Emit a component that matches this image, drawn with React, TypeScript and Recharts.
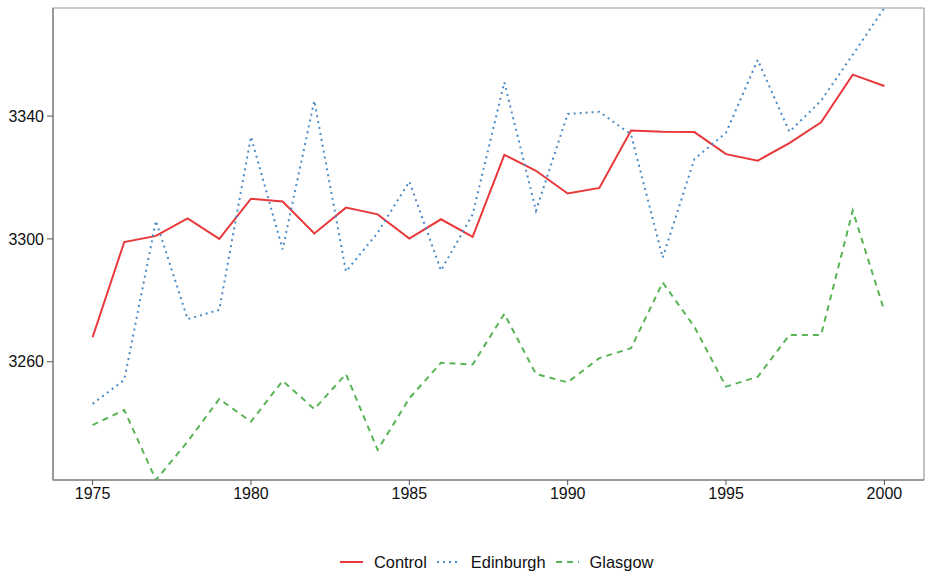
import React from "react";
import {
  LineChart,
  Line,
  XAxis,
  YAxis,
  ReferenceArea,
} from "recharts";

const years = [
  1975, 1976, 1977, 1978, 1979, 1980, 1981, 1982, 1983, 1984, 1985, 1986, 1987,
  1988, 1989, 1990, 1991, 1992, 1993, 1994, 1995, 1996, 1997, 1998, 1999, 2000,
];

const control = [
  3268, 3299, 3301, 3306.7, 3300, 3313.1, 3312.2, 3301.8, 3310.2, 3308, 3300.1,
  3306.4, 3300.7, 3327.4, 3322.2, 3314.8, 3316.6, 3335.3, 3334.9, 3334.8,
  3327.6, 3325.5, 3331.2, 3338, 3353.5, 3349.8,
];

const edinburgh = [
  3246.3, 3254.1, 3305.9, 3273.9, 3276.9, 3333.3, 3296.6, 3345, 3289.4, 3302,
  3318.7, 3289.7, 3308, 3351, 3309.2, 3340.7, 3341.4, 3334, 3293.9, 3326,
  3334.6, 3358.3, 3334.9, 3345, 3360, 3375.2,
];

const glasgow = [
  3239.4, 3244.3, 3221.5, 3234, 3247.9, 3240.5, 3253.8, 3244.6, 3256, 3231.3,
  3248.1, 3259.7, 3259.1, 3275.6, 3256, 3253.3, 3261.2, 3264.4, 3285.8, 3271.4,
  3251.9, 3255.1, 3268.7, 3268.7, 3309.2, 3276.5,
];

const xTicks = [1975, 1980, 1985, 1990, 1995, 2000];
const yTicks = [3260, 3300, 3340];

const series = [
  { key: "Control", color: "#E8383A", dash: undefined as string | undefined },
  { key: "Edinburgh", color: "#4A8CC8", dash: "2 4" },
  { key: "Glasgow", color: "#58B455", dash: "6 5" },
];

const rows = years.map((year, i) => ({
  year,
  Control: control[i],
  Edinburgh: edinburgh[i],
  Glasgow: glasgow[i],
}));

const allValues = [...control, ...edinburgh, ...glasgow];
const yMin = Math.min(...allValues);
const yMax = Math.max(...allValues);
// x gets a 5% pad on both sides, y sits flush with the data
const xPad = (years[years.length - 1] - years[0]) * 0.05;
const xMin = years[0] - xPad;
const xMax = years[years.length - 1] + xPad;

const FONT = "'Liberation Sans', Arial, Helvetica, sans-serif";
const tickStyle = { fontSize: 16, fill: "#111", fontFamily: FONT };

function LegendRow() {
  return (
    <div
      style={{
        position: "absolute",
        top: 551,
        left: 340,
        display: "flex",
        alignItems: "center",
        fontFamily: FONT,
        fontSize: 16.4,
        color: "#111",
        whiteSpace: "nowrap",
      }}
    >
      {series.map((s) => (
        <div key={s.key} style={{ display: "flex", alignItems: "center", marginRight: 10 }}>
          <svg width={23} height={22} style={{ marginRight: 11 }}>
            <line
              x1={0}
              x2={23}
              y1={11}
              y2={11}
              stroke={s.color}
              strokeWidth={2}
              strokeDasharray={s.dash}
            />
          </svg>
          <span>{s.key}</span>
        </div>
      ))}
    </div>
  );
}

export default function App() {
  return (
    <div style={{ position: "absolute", left: 0, top: 0, width: 926, height: 573, background: "#fff" }}>
      <LineChart
        width={926}
        height={573}
        data={rows}
        margin={{ top: 8, right: 2, left: 0, bottom: 0 }}
      >
        <XAxis
          dataKey="year"
          type="number"
          domain={[xMin, xMax]}
          ticks={xTicks}
          allowDataOverflow
          height={93}
          tick={tickStyle}
          tickSize={5}
          tickMargin={3}
          stroke="#8a8a8a"
          axisLine={{ stroke: "#8a8a8a", strokeWidth: 1.5 }}
          tickLine={{ stroke: "#555", strokeWidth: 1 }}
        />
        <YAxis
          type="number"
          domain={[yMin, yMax]}
          ticks={yTicks}
          allowDataOverflow
          width={53}
          tick={tickStyle}
          tickSize={6}
          tickMargin={3}
          axisLine={{ stroke: "#8a8a8a", strokeWidth: 1.5 }}
          tickLine={{ stroke: "#555", strokeWidth: 1 }}
        />
        <ReferenceArea
          x1={xMin}
          x2={xMax}
          y1={yMin}
          y2={yMax}
          fill="none"
          stroke="#9a9a9a"
          strokeWidth={1.2}
        />
        {series.map((s) => (
          <Line
            key={s.key}
            type="linear"
            dataKey={s.key}
            stroke={s.color}
            strokeWidth={2}
            strokeDasharray={s.dash}
            dot={false}
            activeDot={false}
            isAnimationActive={false}
          />
        ))}
      </LineChart>
      <LegendRow />
    </div>
  );
}
